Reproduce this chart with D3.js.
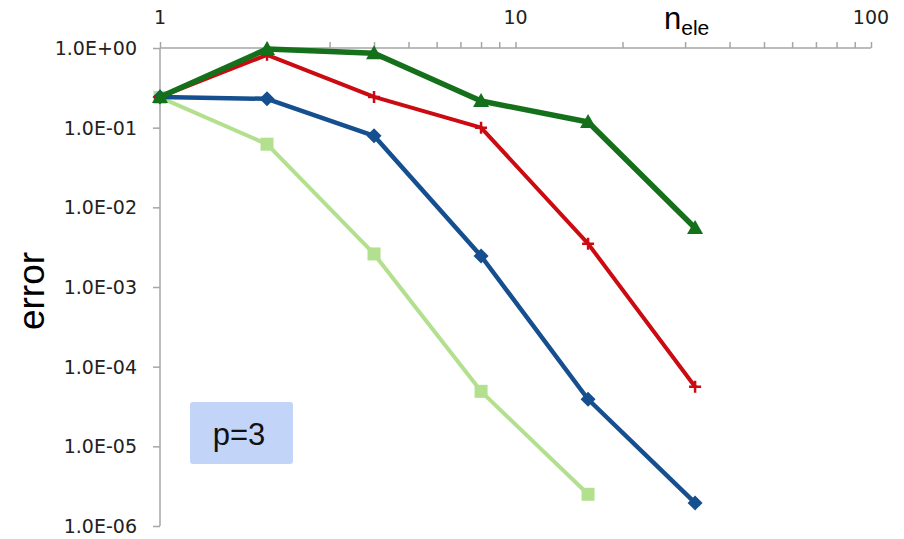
<!DOCTYPE html>
<html>
<head>
<meta charset="utf-8">
<script src="https://cdn.jsdelivr.net/npm/d3@7"></script>
<style>
  html, body { margin: 0; padding: 0; background: #fff; }
  svg { display: block; }
</style>
</head>
<body>
<svg id="chart" width="904" height="539"></svg>
<script>
// ---- data ----
const nEle = [1, 2, 4, 8, 16, 32];
const seriesLightGreen = [0.24, 0.062, 0.0026, 4.9e-5, 2.5e-6];
const seriesBlue = [0.243, 0.23, 0.079, 0.00245, 3.9e-5, 1.95e-6];
const seriesRed = [0.243, 0.82, 0.243, 0.1, 0.0035, 5.6e-5];
const seriesGreen = [0.243, 0.97, 0.86, 0.216, 0.118, 0.0055];
const xTickLabels = ["1", "10", "100"];
const yTickValues = [1, 1e-1, 1e-2, 1e-3, 1e-4, 1e-5, 1e-6];
const yTickLabels = ["1.0E+00", "1.0E-01", "1.0E-02", "1.0E-03", "1.0E-04", "1.0E-05", "1.0E-06"];

const svg = d3.select("#chart");
const x = d3.scaleLog().domain([1, 100]).range([160, 871]);
const y = d3.scaleLog().domain([1e-6, 1]).range([526, 48]);
const axisColor = "#a6a6a6";

// x axis at top
const xMinor = [];
for (let d = 1; d <= 10; d *= 10) for (let k = 1; k <= 10; k++) xMinor.push(d * k);
const xAx = svg.append("g").attr("transform", `translate(0,${y(1)})`)
  .call(d3.axisTop(x).tickValues(Array.from(new Set(xMinor))).tickSize(6).tickFormat(""));
xAx.selectAll("path,line").attr("stroke", axisColor).attr("stroke-width", 1.5);
xAx.select(".domain").attr("d", `M${x(1)},0H${x(100)}`);

svg.append("g").selectAll("text").data(xTickLabels).join("text")
  .attr("x", d => x(+d)).attr("y", 24)
  .attr("text-anchor", "middle")
  .attr("font-family", "DejaVu Sans").attr("font-size", 19).attr("fill", "#222")
  .text(d => d);

// y axis
const yAx = svg.append("g").attr("transform", `translate(${x(1)},0)`)
  .call(d3.axisLeft(y).tickValues(yTickValues).tickSize(7).tickFormat(""));
yAx.selectAll("path,line").attr("stroke", axisColor).attr("stroke-width", 1.5);
yAx.select(".domain").attr("d", `M0,${y(1)}V${y(1e-6)}`);

svg.append("g").selectAll("text").data(yTickValues).join("text")
  .attr("x", 137).attr("y", d => y(d) + 7)
  .attr("text-anchor", "end")
  .attr("font-family", "DejaVu Sans").attr("font-size", 19).attr("fill", "#222")
  .text((d, i) => yTickLabels[i]);

// axis titles
svg.append("text")
  .attr("transform", "translate(44,291) rotate(-90)")
  .attr("text-anchor", "middle")
  .attr("font-family", "Liberation Sans, Arial").attr("font-size", 37).attr("fill", "#000")
  .text("error");

const nt = svg.append("text").attr("x", 664).attr("y", 29)
  .attr("font-family", "Liberation Sans, Arial").attr("font-size", 31).attr("fill", "#000");
nt.append("tspan").text("n");
nt.append("tspan").attr("dy", 6).attr("font-size", 21).text("ele");

// series
const line = d3.line().x((d, i) => x(nEle[i])).y(d => y(d));
const series = [
  { vals: seriesLightGreen, color: "#b3e08f", width: 4, marker: "square" },
  { vals: seriesBlue, color: "#154f8f", width: 4.5, marker: "diamond" },
  { vals: seriesRed, color: "#cc0a12", width: 4, marker: "plus" },
  { vals: seriesGreen, color: "#14701a", width: 5.5, marker: "triangle" }
];
series.forEach(s => {
  svg.append("path").datum(s.vals).attr("d", line)
    .attr("fill", "none").attr("stroke", s.color).attr("stroke-width", s.width)
    .attr("stroke-linejoin", "round");
  const g = svg.append("g");
  s.vals.forEach((v, i) => {
    const cx = x(nEle[i]), cy = y(v);
    if (s.marker === "square") {
      g.append("rect").attr("x", cx - 6.5).attr("y", cy - 6.5).attr("width", 13).attr("height", 13).attr("fill", s.color);
    } else if (s.marker === "diamond") {
      g.append("path").attr("d", `M${cx},${cy-7.5}L${cx+7.5},${cy}L${cx},${cy+7.5}L${cx-7.5},${cy}Z`).attr("fill", s.color);
    } else if (s.marker === "triangle") {
      g.append("path").attr("d", `M${cx},${cy-8}L${cx+8},${cy+6}L${cx-8},${cy+6}Z`).attr("fill", s.color);
    } else if (s.marker === "plus") {
      g.append("path").attr("d", `M${cx-6},${cy}H${cx+6}M${cx},${cy-6}V${cy+6}`)
        .attr("stroke", s.color).attr("stroke-width", 2.5);
    }
  });
});

// annotation box
svg.append("rect").attr("x", 190).attr("y", 402).attr("width", 103).attr("height", 62)
  .attr("rx", 3).attr("fill", "#c2d4f7");
svg.append("text").attr("x", 239).attr("y", 445).attr("text-anchor", "middle")
  .attr("font-family", "Liberation Sans, Arial").attr("font-size", 31).attr("fill", "#111")
  .text("p=3");
</script>
</body>
</html>
